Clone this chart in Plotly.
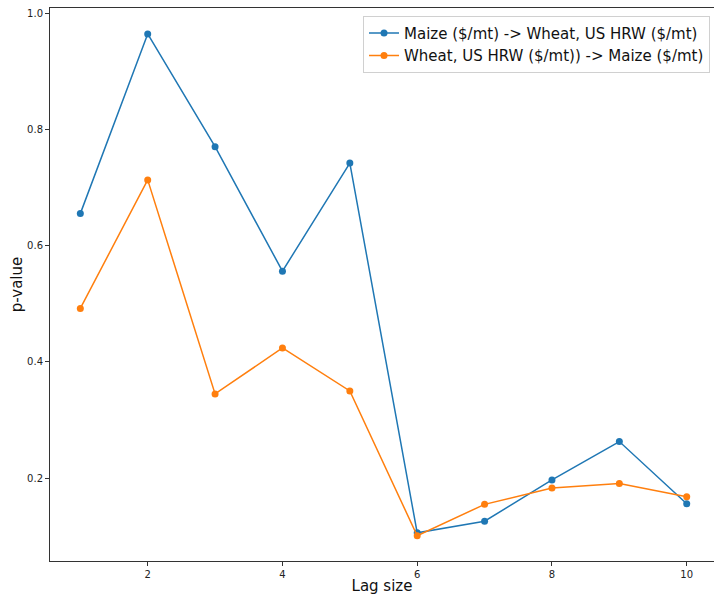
import plotly.graph_objects as go

lags = [1, 2, 3, 4, 5, 6, 7, 8, 9, 10]
maize_to_wheat = [0.655, 0.964, 0.770, 0.556, 0.742, 0.106, 0.126, 0.197, 0.263, 0.156]
wheat_to_maize = [0.492, 0.713, 0.345, 0.424, 0.350, 0.101, 0.155, 0.183, 0.191, 0.168]
name_a = "Maize ($/mt) -> Wheat, US HRW ($/mt)"
name_b = "Wheat, US HRW ($/mt)) -> Maize ($/mt)"
x_ticks = [2, 4, 6, 8, 10]
y_ticks = [0.2, 0.4, 0.6, 0.8, 1.0]

fig = go.Figure()
fig.add_trace(go.Scatter(x=lags, y=maize_to_wheat, mode="lines+markers", name=name_a,
                         line=dict(color="#1f77b4", width=1.5),
                         marker=dict(color="#1f77b4", size=7)))
fig.add_trace(go.Scatter(x=lags, y=wheat_to_maize, mode="lines+markers", name=name_b,
                         line=dict(color="#ff7f0e", width=1.5),
                         marker=dict(color="#ff7f0e", size=7)))

fig.update_layout(
    width=715, height=595,
    margin=dict(l=50, r=1, t=8, b=34),
    plot_bgcolor="white", paper_bgcolor="white",
    font=dict(family="DejaVu Sans", color="#222"),
    showlegend=True,
    legend=dict(x=0.994, xanchor="right", y=0.986, yanchor="top",
                bgcolor="white", bordercolor="#d0d0d0", borderwidth=1,
                font=dict(size=15, color="#111"), tracegroupgap=0),
    xaxis=dict(range=[0.55, 10.405], tickvals=x_ticks, ticktext=[str(v) for v in x_ticks],
               showgrid=False, zeroline=False, showline=True, linecolor="#333", linewidth=1,
               mirror=True, ticks="outside", ticklen=4, tickcolor="#333", automargin=False,
               tickfont=dict(size=10, color="#222"),
               title=dict(text="Lag size", font=dict(size=15, color="#111"), standoff=4)),
    yaxis=dict(range=[0.0576, 1.0086], tickvals=y_ticks, ticktext=["0.2", "0.4", "0.6", "0.8", "1.0"],
               showgrid=False, zeroline=False, showline=True, linecolor="#333", linewidth=1,
               ticks="outside", ticklen=4, tickcolor="#333", automargin=False,
               tickfont=dict(size=10, color="#222"),
               title=dict(text="p-value", font=dict(size=15, color="#111"), standoff=0)),
)

fig.write_html("out.html")
